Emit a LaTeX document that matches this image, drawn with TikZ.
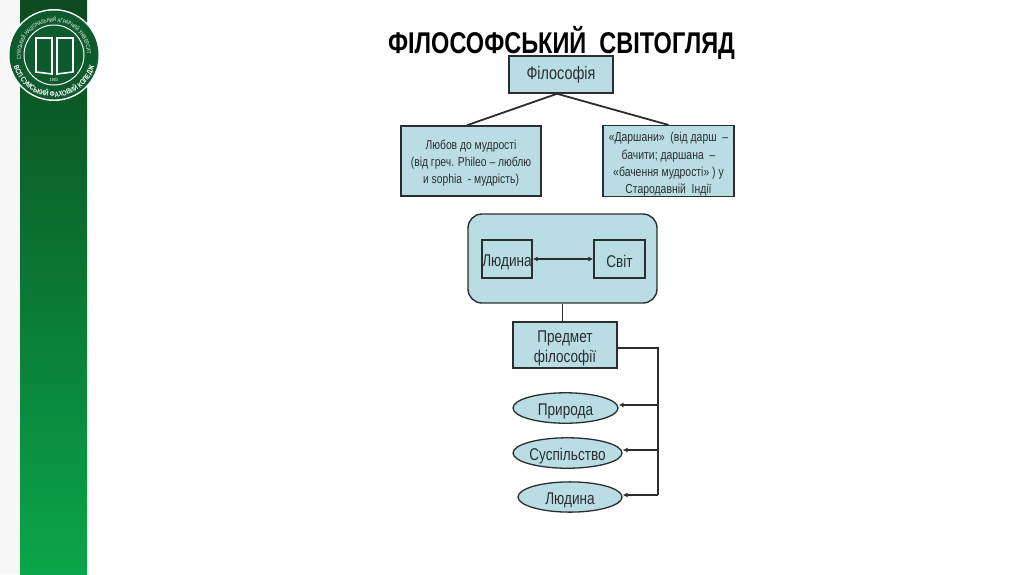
\documentclass[tikz,border=0pt]{standalone}
\usepackage{fontspec}
\setmainfont[FakeStretch=0.8]{Liberation Sans}
\newfontfamily\logoa[FakeStretch=0.72]{Liberation Sans}
\newfontfamily\logob[FakeStretch=0.8]{Liberation Sans Bold}
\usetikzlibrary{shapes.geometric,arrows.meta,decorations.text}
\definecolor{boxfill}{HTML}{B9DDE3}
\definecolor{stripa}{HTML}{0B4A1E}
\definecolor{stripb}{HTML}{0AA64A}
\definecolor{logog}{HTML}{0D5A2C}
\definecolor{ink}{HTML}{2A2E30}
\newcommand{\lowerby}[1]{\rule{0pt}{#1pt}}
\tikzset{
  pbox/.style={draw=ink,line width=1.5pt,fill=boxfill,rectangle,inner sep=0pt,align=center,text=ink},
  plain/.style={draw=ink,line width=1.4pt,rectangle,inner sep=0pt,text=ink,font=\fontsize{17}{20}\selectfont},
  oval/.style={draw=ink,line width=1.3pt,fill=boxfill,ellipse,inner sep=0pt,text=ink,font=\fontsize{17}{20}\selectfont},
  link/.style={draw=ink,line width=1.3pt},
  heavy/.style={draw=ink,line width=1.8pt},
  tiparrow/.style={-{Latex[length=5pt,width=5pt]}},
}
\begin{document}
\begin{tikzpicture}[x=1pt,y=-1pt]
\useasboundingbox (0,0) rectangle (1024,574);
\fill[white] (0,0) rectangle (1024,574);
\fill[black!3] (0,0) rectangle (20,574);
\shade[top color=stripa,bottom color=stripb] (20,0) rectangle (87,574);
% logo
\fill[white] (54,55) circle (46);
\fill[logog] (54,55) circle (44.5);
\draw[white,line width=1pt] (54,55) circle (30);
\draw[white,line width=1.6pt] (36,38) -- (52,38) -- (52,74) -- (36,72) -- cycle;
\draw[white,line width=1.6pt] (73,38) -- (57,38) -- (57,74) -- (73,72) -- cycle;
\node[text=white,font=\fontsize{4.5}{5}\selectfont,inner sep=0] (year) at (54,80) {1903};
\path[postaction={decorate,decoration={text along path,text align=center,text color=white,
  text={|\logoa\fontsize{5.8}{7}\selectfont|СУМСЬКИЙ НАЦІОНАЛЬНИЙ АГРАРНИЙ УНІВЕРСИТЕТ}}}]
  (21,55) arc[start angle=180,end angle=360,radius=33];
\path[postaction={decorate,decoration={text along path,text align=center,text color=white,
  text={|\logob\fontsize{7.4}{9}\selectfont|ВСП СУМСЬКИЙ ФАХОВИЙ КОЛЕДЖ}}}]
  (12,55) arc[start angle=180,end angle=0,radius=42];
% title
\node[font=\fontsize{30}{34}\bfseries\selectfont,text=black,inner sep=0,xscale=0.98] (title) at (561.5,43) {ФІЛОСОФСЬКИЙ\ \ СВІТОГЛЯД};
% boxes
\node[pbox,minimum width=104pt,minimum height=37pt,font=\fontsize{18}{20}\selectfont] (phil) at (561,74.5) {Філософія};
\node[pbox,minimum width=140pt,minimum height=70pt,font=\fontsize{12.9}{17}\selectfont] (love) at (471,161) {\lowerby{14}Любов до мудрості\\(від греч. Phileo – люблю\\и sophia\ \ - мудрість)};
\node[pbox,minimum width=131pt,minimum height=70pt,font=\fontsize{13}{17.3}\selectfont] (darsh) at (668.5,161) {\lowerby{16}«Даршани»\ \ (від дарш\ \ –\\бачити; даршана\ \ –\\«бачення мудрості» ) у\\Стародавній\ \ Індії};
\node[draw=ink,line width=1.4pt,fill=boxfill,rectangle,rounded corners=14pt,minimum width=189pt,minimum height=89pt,inner sep=0] (round) at (562.5,258.5) {};
\node[plain,minimum width=50pt,minimum height=38pt] (man) at (507,259) {\lowerby{18}Людина};
\node[plain,minimum width=51pt,minimum height=38pt] (world) at (619.5,259) {\lowerby{18}Світ};
\node[pbox,minimum width=104pt,minimum height=46pt,font=\fontsize{17}{20}\selectfont] (subject) at (565,345) {\lowerby{18}Предмет\\філософії};
\node[oval,minimum width=105pt,minimum height=30pt] (nature) at (565.5,408) {\lowerby{18}Природа};
\node[oval,minimum width=109pt,minimum height=30pt] (society) at (567.5,453) {\lowerby{18}Суспільство};
\node[oval,minimum width=104pt,minimum height=30pt] (human) at (570,497) {\lowerby{18}Людина};
% connectors
\coordinate (apex) at (phil.south -| 557,0);
\coordinate (la) at (love.north -| 467,0);
\coordinate (ra) at (darsh.north);
\draw[heavy] (apex) -- (la);
\draw[heavy] (apex) -- (ra);
\draw[link,{Latex[length=5pt,width=5pt]}-{Latex[length=5pt,width=5pt]}] (man.east) -- (world.west);
\draw[link] (round.south) -- (round.south |- subject.north);
\coordinate (corner) at (658,348);
\coordinate (bot) at (658,495);
\draw[link] (subject.east |- corner) -- (corner) -- (bot);
\coordinate (j1) at (658,405);
\coordinate (j2) at (658,450);
\draw[link,tiparrow] (j1) -- (nature.east |- j1);
\draw[link,tiparrow] (j2) -- (society.east |- j2);
\draw[link,tiparrow] (bot) -- (human.east |- bot);
\end{tikzpicture}
\end{document}
